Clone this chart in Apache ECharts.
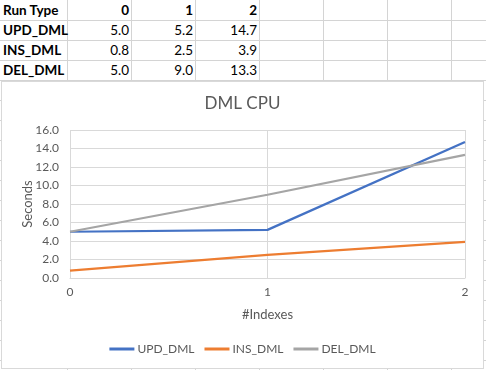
<!DOCTYPE html>
<html>
<head>
<meta charset="utf-8">
<script src="https://cdn.jsdelivr.net/npm/echarts@6/dist/echarts.min.js"></script>
<style>
  html, body { margin:0; padding:0; background:#fff; width:486px; height:370px; overflow:hidden; }
  #sheet { position:absolute; left:0; top:0; width:486px; height:370px; font-family:"Lato", "Liberation Sans", sans-serif; font-size:13.5px; color:#000; }
  .vl { position:absolute; width:1px; background:#d4d4d4; }
  .hl { position:absolute; height:1px; background:#d4d4d4; }
  .cell { position:absolute; height:20px; line-height:20px; white-space:nowrap; }
  #chart { position:absolute; left:1px; top:81px; width:481px; height:286px; border:1px solid #d9d9d9; background:#fff; }
</style>
</head>
<body>
<div id="sheet"></div>
<div id="chart"></div>
<script>
// ---- data ----
const categories = ['0', '1', '2'];
const seriesNames = ['UPD_DML', 'INS_DML', 'DEL_DML'];
const updValues = [5.0, 5.2, 14.7];
const insValues = [0.8, 2.5, 3.9];
const delValues = [5.0, 9.0, 13.3];
const headerLabel = 'Run Type';
const chartTitle = 'DML CPU';
const xAxisTitle = '#Indexes';
const yAxisTitle = 'Seconds';

// ---- spreadsheet grid ----
const sheet = document.getElementById('sheet');
const colEdges = [67, 131, 195, 259, 323, 387, 451];
colEdges.forEach(x => {
  const d = document.createElement('div');
  d.className = 'vl'; d.style.left = x + 'px'; d.style.top = '0px'; d.style.height = '370px';
  sheet.appendChild(d);
});
for (let y = 20; y < 370; y += 20) {
  const d = document.createElement('div');
  d.className = 'hl'; d.style.left = '0px'; d.style.top = y + 'px'; d.style.width = '486px';
  sheet.appendChild(d);
}
function addCell(text, colLeft, colRight, row, align, bold) {
  const d = document.createElement('div');
  d.className = 'cell';
  d.textContent = text;
  d.style.top = (row * 20) + 'px';
  if (align === 'left') { d.style.left = (colLeft + 3) + 'px'; }
  else { d.style.right = (486 - colRight + 2) + 'px'; }
  if (bold) d.style.fontWeight = 'bold';
  sheet.appendChild(d);
}
const cols = [[0, 67], [67, 131], [131, 195], [195, 259]];
addCell(headerLabel, cols[0][0], cols[0][1], 0, 'left', true);
categories.forEach((c, i) => addCell(c, cols[i + 1][0], cols[i + 1][1], 0, 'right', true));
const allValues = [updValues, insValues, delValues];
seriesNames.forEach((n, r) => {
  addCell(n, cols[0][0], cols[0][1], r + 1, 'left', true);
  allValues[r].forEach((v, i) => addCell(v.toFixed(1), cols[i + 1][0], cols[i + 1][1], r + 1, 'right', false));
});

// ---- chart ----
const colors = ['#4472C4', '#ED7D31', '#A5A5A5'];
const chart = echarts.init(document.getElementById('chart'), null, { renderer: 'canvas' });
const txt = '#595959';
const font = 'Lato, "Liberation Sans", sans-serif';
chart.setOption({
  animation: false,
  textStyle: { fontFamily: font },
  title: {
    text: chartTitle, left: 'center', top: 13, padding: 0,
    textStyle: { color: txt, fontSize: 17, fontWeight: 'normal', fontFamily: font }
  },
  grid: { left: 68, right: 18, top: 48, bottom: 90, containLabel: false },
  legend: {
    bottom: 8, left: 'center', itemWidth: 25, itemHeight: 3, itemGap: 10,
    icon: 'rect',
    textStyle: { color: txt, fontSize: 12, fontFamily: font, padding: [0, 0, 0, -2] },
    data: seriesNames
  },
  xAxis: {
    type: 'category', data: categories, boundaryGap: false,
    name: xAxisTitle, nameLocation: 'middle', nameGap: 30, nameMoveOverlap: false,
    nameTextStyle: { color: txt, fontSize: 13, fontFamily: font },
    axisLine: { lineStyle: { color: '#d9d9d9', width: 1 } },
    axisTick: { show: false },
    axisLabel: { color: txt, fontSize: 12, margin: 8, fontFamily: font },
    splitLine: { show: true, lineStyle: { color: '#d9d9d9', width: 1 } }
  },
  yAxis: {
    type: 'value', min: 0, max: 16, interval: 2,
    name: yAxisTitle, nameLocation: 'middle', nameGap: 36, nameRotate: 90, nameMoveOverlap: false,
    nameTextStyle: { color: txt, fontSize: 13, fontFamily: font },
    axisLine: { show: false }, axisTick: { show: false },
    axisLabel: { color: txt, fontSize: 12, margin: 11, fontFamily: font, formatter: v => v.toFixed(1) },
    splitLine: { lineStyle: { color: '#d9d9d9', width: 1 } }
  },
  series: seriesNames.map((n, i) => ({
    name: n, type: 'line', data: allValues[i], symbol: 'none', showSymbol: false,
    lineStyle: { color: colors[i], width: 2.25 }, itemStyle: { color: colors[i] }
  }))
});
</script>
</body>
</html>
